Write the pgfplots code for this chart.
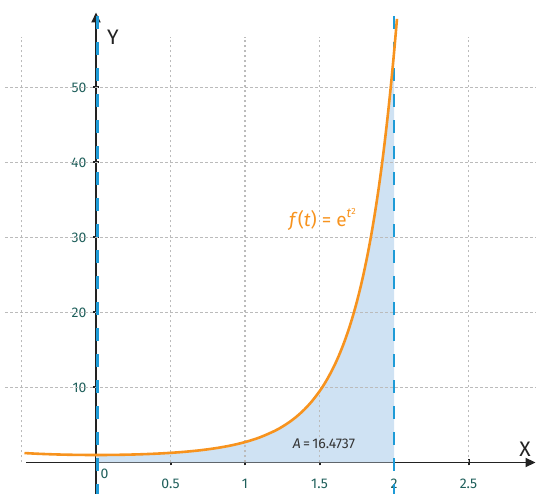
\documentclass[border=0pt]{standalone}
\usepackage{pgfplots}
\pgfplotsset{compat=1.18}
\usepackage{fontspec}
\setmainfont{Fira Sans}
\usetikzlibrary{arrows.meta}
\definecolor{curveor}{HTML}{F7931E}
\definecolor{dashblue}{HTML}{1E9BD7}
\definecolor{fillblue}{HTML}{CFE2F3}
\definecolor{ticklab}{HTML}{1F5F5B}
\definecolor{axisblack}{HTML}{222222}
\definecolor{gridgray}{HTML}{BBBBBB}
\definecolor{areatext}{HTML}{333333}

\pgfplotstableread{
x y
-0.48 1.2591
-0.4 1.1735
-0.3 1.0942
-0.2 1.0408
-0.1 1.0101
0 1
0.1 1.0101
0.2 1.0408
0.3 1.0942
0.4 1.1735
0.5 1.2840
0.6 1.4333
0.7 1.6323
0.8 1.8965
0.9 2.2479
1.0 2.7183
1.1 3.3535
1.2 4.2207
1.25 4.771
1.3 5.4195
1.35 6.188
1.4 7.0993
1.45 8.186
1.5 9.4877
1.525 10.23
1.55 11.050
1.575 11.95
1.6 12.936
1.625 14.02
1.65 15.218
1.675 16.54
1.7 17.993
1.725 19.60
1.75 21.381
1.775 23.35
1.8 25.534
1.825 27.96
1.85 30.648
1.875 33.64
1.9 36.966
1.925 40.67
1.95 44.822
1.975 49.43
2.0 54.598
2.02 59.15
}\curvedata

\pgfplotstableread{
x y
0 0
0 1
0.1 1.0101
0.2 1.0408
0.3 1.0942
0.4 1.1735
0.5 1.2840
0.6 1.4333
0.7 1.6323
0.8 1.8965
0.9 2.2479
1.0 2.7183
1.1 3.3535
1.2 4.2207
1.25 4.771
1.3 5.4195
1.35 6.188
1.4 7.0993
1.45 8.186
1.5 9.4877
1.525 10.23
1.55 11.050
1.575 11.95
1.6 12.936
1.625 14.02
1.65 15.218
1.675 16.54
1.7 17.993
1.725 19.60
1.75 21.381
1.775 23.35
1.8 25.534
1.825 27.96
1.85 30.648
1.875 33.64
1.9 36.966
1.925 40.67
1.95 44.822
1.975 49.43
2.0 54.598
2.0 0
}\filldata

\begin{document}
\begin{tikzpicture}
\useasboundingbox (0,0) rectangle (536pt,494pt);
\begin{axis}[
  at={(96pt,31.5pt)}, anchor=origin,
  x=149pt, y=7.5pt,
  xmin=-0.61, xmax=2.95, ymin=-4.2, ymax=60,
  axis lines=middle,
  axis line style={line width=1.8pt, color=axisblack},
  x axis line style={shorten <=21pt, -{Triangle[length=10pt,width=9pt]}},
  y axis line style={-{Triangle[length=10pt,width=9pt]}},
  xtick={0.5,1,1.5,2,2.5},
  ytick={10,20,30,40,50},
  xticklabels={0.5,1,1.5,2,2.5},
  yticklabels={10,20,30,40,50},
  tick align=center,
  major tick length=6pt,
  tick style={line width=2pt, color=axisblack},
  xticklabel style={yshift=-10pt, text=ticklab, font=\fontsize{14}{16}\selectfont},
  yticklabel style={xshift=-3pt, text=ticklab, font=\fontsize{14}{16}\selectfont},
  /pgf/number format/assume math mode=true,
  clip=false,
  axis on top=false,
]
\addplot[fill=fillblue, draw=none] table {\filldata};
\pgfplotsinvokeforeach{-0.5,0.5,1,1.5,2.5}{
  \draw[gridgray, line width=1.1pt, dash pattern=on 2.5pt off 2.5pt] (axis cs:#1,0) -- (axis cs:#1,56.7);
}
\pgfplotsinvokeforeach{10,20,30,40,50}{
  \draw[gridgray, line width=1.1pt, dash pattern=on 2.5pt off 2.5pt] (axis cs:-0.61,#1) -- (axis cs:2.95,#1);
}
\addplot[dashblue, line width=2.8pt, dash pattern=on 13pt off 13pt, dash phase=3pt] coordinates {(0.01,-4.2) (0.01,60)};
\addplot[dashblue, line width=2.8pt, dash pattern=on 13pt off 13pt, dash phase=3pt] coordinates {(2,-4.2) (2,60)};
\addplot[curveor, line width=2.6pt, smooth] table {\curvedata};
\node[anchor=base, text=curveor, font=\fontsize{19}{22}\selectfont] at (axis cs:1.52,31.4)
  {\textit{f}(\textit{t}) = e\raisebox{0.5em}{\fontsize{13}{15}\selectfont\textit{t}\raisebox{0.25em}{\fontsize{9}{10}\selectfont 2}}};
\node[anchor=base, text=areatext, font=\fontsize{14}{16}\selectfont] at (axis cs:1.53,1.9)
  {\textit{A}\,=\,16.4737};
\node[anchor=north west, text=ticklab, font=\fontsize{14}{16}\selectfont, inner sep=0pt] at (axis cs:0.03,-0.9) {0};
\node[anchor=base, font=\fontsize{21}{24}\selectfont, text=axisblack] at (axis cs:0.114,55.7) {Y};
\node[anchor=base, font=\fontsize{21}{24}\selectfont, text=axisblack] at (axis cs:2.88,0.77) {X};
\end{axis}
\end{tikzpicture}
\end{document}
